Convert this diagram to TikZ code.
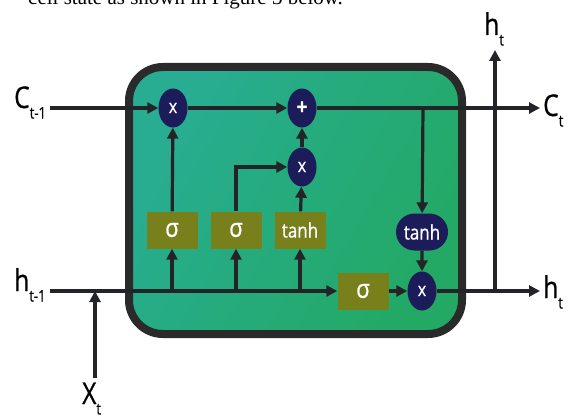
\documentclass[tikz,border=0pt]{standalone}
\usepackage{fontspec}
\setmainfont{Liberation Serif}
\newfontfamily\lbl[FakeStretch=0.82,FakeBold=0.6]{Open Sans}
\newfontfamily\inner[FakeStretch=0.85,FakeBold=0.8]{Open Sans}
\usetikzlibrary{arrows.meta,shapes.geometric,shapes.misc}
\definecolor{navy}{HTML}{1D1C5B}
\definecolor{olive}{HTML}{77801A}
\definecolor{linec}{HTML}{222428}
\definecolor{borderc}{HTML}{2A2A2A}
\definecolor{tealc}{HTML}{28AD93}
\definecolor{greenc}{HTML}{23A964}
\tikzset{
  conn/.style={draw=linec,line width=3.2pt},
  arr/.style={conn,-{Triangle[length=11pt,width=11pt]}},
  op/.style={ellipse,fill=navy,minimum width=29pt,minimum height=39pt,inner sep=0pt,text=white,font=\inner\fontsize{19}{19}\selectfont},
  gate/.style={rectangle,fill=olive,minimum width=51pt,minimum height=37pt,inner sep=0pt,text=white},
  sig/.style={gate,font=\inner\fontsize{26}{26}\selectfont},
  tnh/.style={font=\inner\fontsize{20}{20}\selectfont},
  lab/.style={font=\lbl\fontsize{30}{30}\selectfont,inner sep=0pt,anchor=base west},
}
\newcommand{\sbs}[1]{\raisebox{-0.35em}{\fontsize{16}{16}\selectfont #1}}
\begin{document}
\begin{tikzpicture}[x=1pt,y=-1pt]
\useasboundingbox (0,0) rectangle (570,420);
% caption remnant
\node[anchor=base west,inner sep=0pt,font=\fontsize{21}{21}\selectfont] (cap) at (28,5) {cell state as shown in Figure 3 below.};
% cell box
\shade[left color=tealc,right color=greenc,shading angle=60,rounded corners=34pt]
  (129,67) rectangle (462,334);
\draw[draw=borderc,line width=8pt,rounded corners=34pt] (129,67) rectangle (462,334);
% nodes
\node[op] (fx) at (173,108) {x};
\node[op,font=\inner\bfseries\fontsize{22}{22}\selectfont] (plus) at (302,108) {+};
\node[op] (inx) at (302,167) {x};
\node[sig] (g1) at (172,230) {σ};
\node[sig] (g2) at (236,230) {σ};
\node[gate,tnh] (g3) at (300,230) {tanh};
\node[sig] (go) at (363,291) {σ};
\node[op] (outx) at (422,291) {x};
\node[rounded rectangle,fill=navy,text=white,tnh,minimum width=52pt,minimum height=37pt,inner sep=0pt] (tc) at (422,232) {tanh};
% coordinates
\coordinate (cin) at (50,108);
\coordinate (cout) at (540,108);
\coordinate (hin) at (50,291);
\coordinate (hout) at (540,291);
\coordinate (hup) at (495,50);
\coordinate (hsplit) at (495,291);
\coordinate (xin) at (95,378);
\coordinate (xj) at (95,291);
\coordinate (s1) at (172,291);
\coordinate (s2) at (236,291);
\coordinate (s3) at (300,291);
\coordinate (cs) at (423,108);
% connectors
\draw[arr] (cin) -- (fx);
\draw[arr] (fx) -- (plus);
\draw[arr] (plus) -- (cout);
\draw[arr] (hin) -- (go);
\draw[arr] (go) -- (outx);
\draw[arr] (outx) -- (hout);
\draw[arr] (xin) -- (xj);
\draw[arr] (s1) -- (g1);
\draw[arr] (g1) -- (fx);
\draw[arr] (s2) -- (g2);
\draw[arr] (g2.north) |- (inx);
\draw[arr] (s3) -- (g3);
\draw[arr] (g3) -- (inx);
\draw[arr] (inx) -- (plus);
\draw[arr] (cs) -- (tc);
\draw[arr] (tc) -- (outx);
\draw[arr] (hsplit) -- (hup);
% labels
\node[lab] (lc1) at (14,108) {C\sbs{t-1}};
\node[lab] (lh1) at (14,291) {h\sbs{t-1}};
\node[lab] (lx) at (82,404) {X\sbs{t}};
\node[lab] (lct) at (543,116) {C\sbs{t}};
\node[lab] (lht) at (543,298) {h\sbs{t}};
\node[lab] (lhu) at (484,35) {h\sbs{t}};
\end{tikzpicture}
\end{document}
